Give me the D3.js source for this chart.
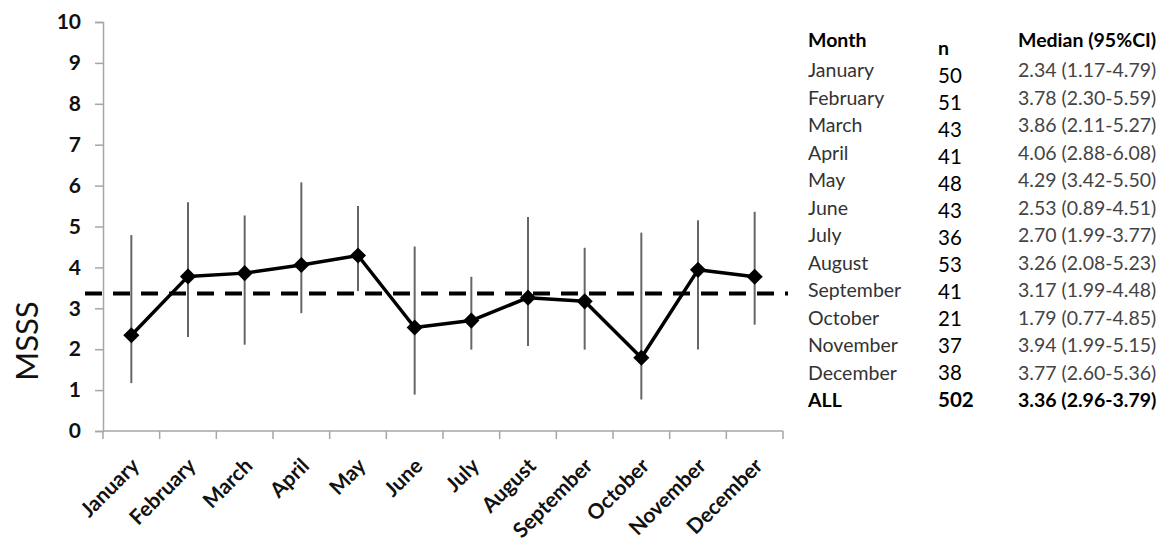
<!DOCTYPE html>
<html>
<head>
<meta charset="utf-8">
<script src="https://cdn.jsdelivr.net/npm/d3@7"></script>
<style>
  html, body { margin: 0; padding: 0; background: #fff; }
  svg { display: block; }
  text { font-family: Lato, "Open Sans", sans-serif; }
</style>
</head>
<body>
<svg id="chart" width="1166" height="547"></svg>
<script>
// Monthly MSSS medians with 95% confidence intervals
const months = ["January", "February", "March", "April", "May", "June",
                "July", "August", "September", "October", "November", "December"];
const counts  = [50, 51, 43, 41, 48, 43, 36, 53, 41, 21, 37, 38];
const medians = [2.34, 3.78, 3.86, 4.06, 4.29, 2.53, 2.70, 3.26, 3.17, 1.79, 3.94, 3.77];
const ciLow   = [1.17, 2.30, 2.11, 2.88, 3.42, 0.89, 1.99, 2.08, 1.99, 0.77, 1.99, 2.60];
const ciHigh  = [4.79, 5.59, 5.27, 6.08, 5.50, 4.51, 3.77, 5.23, 4.48, 4.85, 5.15, 5.36];

// Pooled row (all months)
const allLabel = "ALL";
const allCount = 502;
const allMedian = 3.36;
const allLow = 2.96;
const allHigh = 3.79;

const yTicks = [0, 1, 2, 3, 4, 5, 6, 7, 8, 9, 10];
const yTitle = "MSSS";
const tableHeaders = ["Month", "n", "Median (95%CI)"];

const svg = d3.select("#chart");
const axisColor = "#a6a6a6";

const x = d3.scaleBand().domain(months).range([103, 783]);
const y = d3.scaleLinear().domain([0, 10]).range([431, 22]);
const cx = m => x(m) + x.bandwidth() / 2;

// ---- Y axis ----
const yAxis = svg.append("g")
  .attr("transform", `translate(${x.range()[0]},0)`)
  .call(d3.axisLeft(y).tickValues(yTicks).tickSize(8).tickPadding(14).tickFormat(d3.format("d")));
yAxis.select(".domain").attr("stroke", axisColor).attr("stroke-width", 1.5);
yAxis.selectAll(".tick line").attr("stroke", axisColor).attr("stroke-width", 1.5);
yAxis.selectAll(".tick text")
  .attr("fill", "#111").attr("font-size", 21).attr("font-weight", 700)
  .attr("font-family", "Lato, sans-serif");

// ---- X axis: baseline, boundary ticks, rotated labels ----
const xg = svg.append("g");
xg.append("line")
  .attr("x1", x.range()[0]).attr("x2", x.range()[1])
  .attr("y1", y(0)).attr("y2", y(0))
  .attr("stroke", axisColor).attr("stroke-width", 1.5);
const edges = months.map(m => x(m)).concat([x.range()[1]]);
xg.selectAll("line.edge").data(edges).join("line")
  .attr("class", "edge")
  .attr("x1", d => d).attr("x2", d => d)
  .attr("y1", y(0)).attr("y2", y(0) + 8)
  .attr("stroke", axisColor).attr("stroke-width", 1.5);
xg.selectAll("text.mlabel").data(months).join("text")
  .attr("class", "mlabel")
  .attr("transform", m => `translate(${cx(m) + 4},${y(0) + 31}) rotate(-45)`)
  .attr("text-anchor", "end")
  .attr("dy", "0.35em")
  .attr("font-size", 21).attr("font-weight", 700).attr("fill", "#111")
  .text(m => m);

// Y title
svg.append("text")
  .attr("transform", `translate(38,341) rotate(-90)`)
  .attr("text-anchor", "middle")
  .attr("font-size", 31).attr("fill", "#111")
  .text(yTitle);

// ---- Whiskers (95% CI) ----
svg.append("g").selectAll("line").data(months).join("line")
  .attr("x1", m => cx(m)).attr("x2", m => cx(m))
  .attr("y1", (m, i) => y(ciLow[i])).attr("y2", (m, i) => y(ciHigh[i]))
  .attr("stroke", "#666").attr("stroke-width", 2);

// ---- Overall median reference line ----
svg.append("line")
  .attr("x1", 85).attr("x2", 788)
  .attr("y1", y(allMedian)).attr("y2", y(allMedian))
  .attr("stroke", "#000").attr("stroke-width", 4)
  .attr("stroke-dasharray", "17,11");

// ---- Median line with diamond markers ----
const line = d3.line().x(d => cx(d.m)).y(d => y(d.v));
const pts = months.map((m, i) => ({ m, v: medians[i] }));
svg.append("path").datum(pts)
  .attr("d", line).attr("fill", "none")
  .attr("stroke", "#000").attr("stroke-width", 3.5).attr("stroke-linejoin", "round");
svg.append("g").selectAll("path").data(pts).join("path")
  .attr("d", d3.symbol().type(d3.symbolSquare).size(130))
  .attr("transform", d => `translate(${cx(d.m)},${y(d.v)}) rotate(45)`)
  .attr("fill", "#000");

// ---- Summary table ----
const tbl = svg.append("g");
const colX = [808, 938, 1018];
const rowY0 = 77, rowStep = 27.5;
const nY0 = 83, nStep = 27.0;
const fs = 19.5;
const nfs = 20.5;

tbl.append("text").attr("x", colX[0]).attr("y", 47).attr("font-size", fs).attr("font-weight", 700).attr("fill", "#000").text(tableHeaders[0]);
tbl.append("text").attr("x", colX[1]).attr("y", 55).attr("font-size", fs).attr("font-weight", 700).attr("fill", "#000").text(tableHeaders[1]);
tbl.append("text").attr("x", colX[2]).attr("y", 47).attr("font-size", fs).attr("font-weight", 700).attr("fill", "#000").text(tableHeaders[2]);

const f2 = d3.format(".2f");
months.forEach((m, i) => {
  tbl.append("text").attr("x", colX[0]).attr("y", rowY0 + i * rowStep)
    .attr("font-size", fs).attr("fill", "#333").text(m);
  tbl.append("text").attr("x", colX[1]).attr("y", nY0 + i * nStep)
    .attr("font-size", nfs).attr("fill", "#000").text(counts[i]);
  tbl.append("text").attr("x", colX[2]).attr("y", rowY0 + i * rowStep)
    .attr("font-size", fs).attr("fill", "#444")
    .text(`${f2(medians[i])} (${f2(ciLow[i])}-${f2(ciHigh[i])})`);
});
const allY = rowY0 + months.length * rowStep;
tbl.append("text").attr("x", colX[0]).attr("y", allY).attr("font-size", fs).attr("font-weight", 700).attr("fill", "#000").text(allLabel);
tbl.append("text").attr("x", colX[1]).attr("y", allY).attr("font-size", nfs).attr("font-weight", 700).attr("fill", "#000").text(allCount);
tbl.append("text").attr("x", colX[2]).attr("y", allY).attr("font-size", fs).attr("font-weight", 700).attr("fill", "#000")
  .text(`${f2(allMedian)} (${f2(allLow)}-${f2(allHigh)})`);
</script>
</body>
</html>
